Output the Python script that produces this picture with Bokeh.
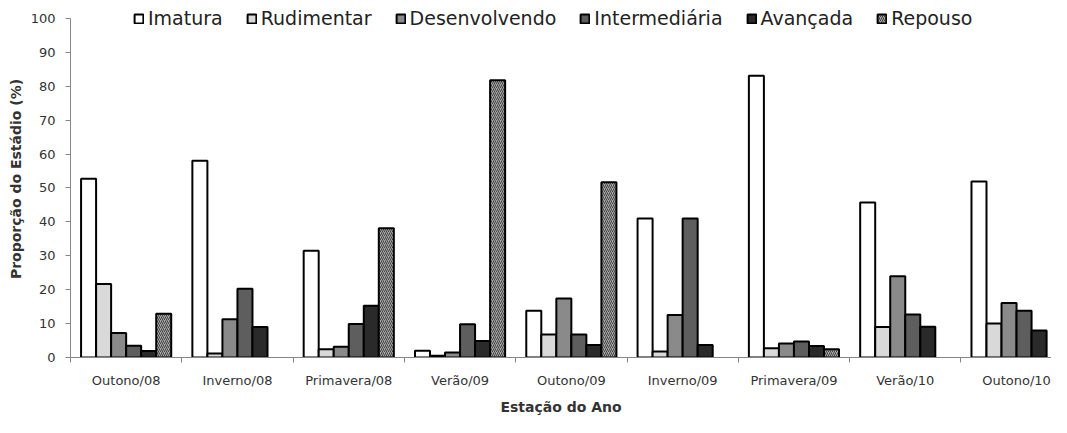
from bokeh.plotting import figure
from bokeh.models import Range1d, FixedTicker, Legend, LegendItem, ColumnDataSource
from bokeh.transform import dodge
from bokeh.embed import file_html
from bokeh.resources import INLINE

categories = ["Outono/08", "Inverno/08", "Primavera/08", "Verão/09", "Outono/09",
              "Inverno/09", "Primavera/09", "Verão/10", "Outono/10"]
imatura = [52.7, 58.0, 31.5, 2.0, 13.8, 41.0, 83.1, 45.7, 51.9]
rudimentar = [21.7, 1.2, 2.4, 0.5, 6.8, 1.8, 2.7, 9.0, 10.0]
desenvolvendo = [7.2, 11.3, 3.2, 1.5, 17.4, 12.5, 4.1, 24.0, 16.1]
intermediaria = [3.5, 20.3, 9.9, 9.8, 6.8, 41.0, 4.7, 12.7, 13.8]
avancada = [1.9, 9.0, 15.3, 4.9, 3.7, 3.7, 3.4, 9.1, 8.0]
repouso = [12.9, 0, 38.1, 81.8, 51.7, 0, 2.4, 0, 0]
series_names = ["Imatura", "Rudimentar", "Desenvolvendo", "Intermediária", "Avançada", "Repouso"]
y_ticks = list(range(0, 101, 10))

series_values = [imatura, rudimentar, desenvolvendo, intermediaria, avancada, repouso]
fills = ["#ffffff", "#d9d9d9", "#8a8a8a", "#5e5e5e", "#2a2a2a", "#a8a8a8"]

W, H = 1051, 417
LEFT, BOTTOM = 70, 59
frame_w = W - LEFT
frame_h = H - BOTTOM            # frame spans from the top of the figure
axis_top_px = 18                # pixel row of the 100 % line
group_px = 111.3
y_max = 100 * frame_h / (frame_h - axis_top_px)

p = figure(width=W, height=H, output_backend="svg", toolbar_location=None,
           x_range=Range1d(0, frame_w / group_px), y_range=Range1d(0, y_max),
           min_border_left=LEFT, min_border_right=0, min_border_top=0,
           min_border_bottom=BOTTOM)
p.outline_line_color = None
p.xgrid.visible = False
p.ygrid.visible = False

centres = [i + 0.5 for i in range(len(categories))]
bw = 0.135
items = []
for j, (name, vals) in enumerate(zip(series_names, series_values)):
    xs = [c for c, v in zip(centres, vals) if v > 0]
    tops = [v for v in vals if v > 0]
    src = ColumnDataSource(dict(x=xs, top=tops))
    kw = dict(fill_color=fills[j], line_color="black", line_width=2)
    if name == "Repouso":
        kw.update(hatch_pattern="/", hatch_color="#404040", hatch_scale=4, hatch_weight=1)
    r = p.vbar(x=dodge("x", (j - 2.5) * bw, range=p.x_range), top="top", bottom=0,
               width=bw, source=src, **kw)
    items.append(LegendItem(label=name, renderers=[r]))

legend = Legend(items=items, orientation="horizontal", location=(63, frame_h - 30),
                label_text_font="DejaVu Sans", label_text_font_size="19px",
                label_text_color="#222222", glyph_width=11, glyph_height=11,
                label_standoff=4, spacing=23, padding=0, margin=0,
                border_line_color=None, background_fill_alpha=0)
p.add_layout(legend, "center")

ax = p.xaxis[0]
ax.ticker = FixedTicker(ticks=centres, minor_ticks=list(range(len(categories) + 1)))
ax.major_label_overrides = {c: n for c, n in zip(centres, categories)}
ax.major_tick_line_color = None
ax.major_tick_out = 0
ax.major_tick_in = 0
ax.minor_tick_line_color = "#868686"
ax.minor_tick_out = 5
ax.minor_tick_in = 0
ax.axis_line_color = "#868686"
ax.major_label_text_font = "DejaVu Sans"
ax.major_label_text_font_size = "13px"
ax.major_label_text_color = "#333333"
ax.major_label_standoff = 10
ax.axis_label = "Estação do Ano"
ax.axis_label_text_font = "DejaVu Sans"
ax.axis_label_text_font_style = "bold"
ax.axis_label_text_font_size = "14px"
ax.axis_label_text_color = "#333333"
ax.axis_label_standoff = 8

ay = p.yaxis[0]
ay.ticker = FixedTicker(ticks=y_ticks, minor_ticks=[])
ay.bounds = (0, 100)
ay.major_tick_out = 5
ay.major_tick_in = 0
ay.major_tick_line_color = "#868686"
ay.axis_line_color = "#868686"
ay.major_label_text_font = "DejaVu Sans"
ay.major_label_text_font_size = "13px"
ay.major_label_text_color = "#333333"
ay.major_label_standoff = 10
ay.axis_label = "Proporção do Estádio (%)"
ay.axis_label_text_font = "DejaVu Sans"
ay.axis_label_text_font_style = "bold"
ay.axis_label_text_font_size = "14px"
ay.axis_label_text_color = "#333333"
ay.axis_label_standoff = 4

open("out.html", "w").write(file_html(p, INLINE))
